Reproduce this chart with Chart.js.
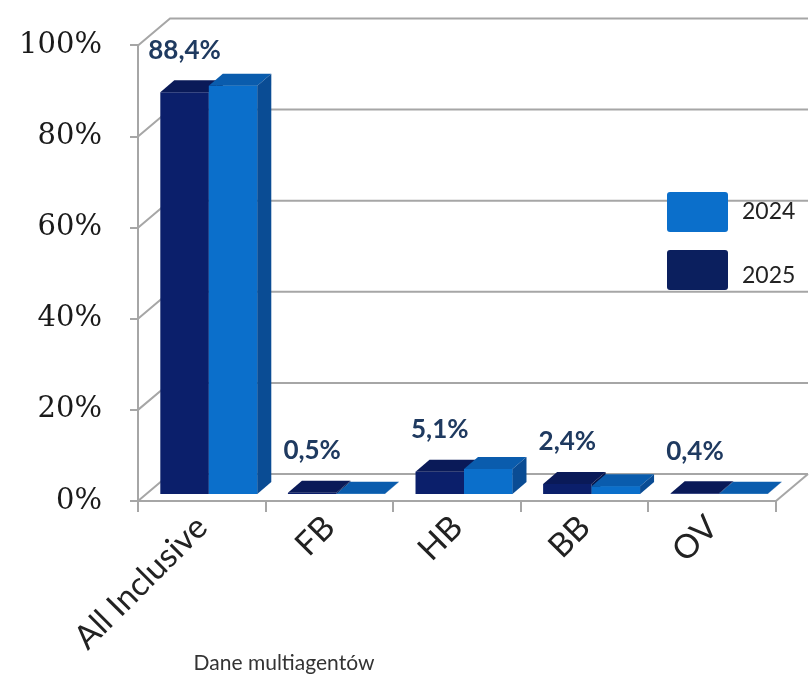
<!DOCTYPE html>
<html>
<head>
<meta charset="utf-8">
<title>Dane multiagentów</title>
<script src="https://cdn.jsdelivr.net/npm/chart.js@4.4.1/dist/chart.umd.min.js"></script>
<style>
    html, body { margin: 0; padding: 0; background: #ffffff; }
    canvas { display: block; }
</style>
</head>
<body>
<canvas id="boardChart" width="809" height="679"></canvas>
<script>
// --- data ---
const categories = ['All Inclusive', 'FB', 'HB', 'BB', 'OV'];
const values2025 = [88.4, 0.5, 5.1, 2.4, 0.4];
const values2024 = [89.8, 0.3, 5.7, 1.9, 0.3];
const labels2025 = ['88,4%', '0,5%', '5,1%', '2,4%', '0,4%'];
const seriesNames = ['2025', '2024'];
const yTicks = [0, 20, 40, 60, 80, 100];
const axisTitle = 'Dane multiagentów';

// colours: front, top, side
const navy = { front: '#0b1f6b', top: '#0a1a58', side: '#08164a', legend: '#0b1f5e' };
const blue = { front: '#0b6fcb', top: '#0a5cad', side: '#0a4c94', legend: '#0b6fcb' };

// fake 3D depth (pixels)
const WALL_DX = 32, WALL_DY = -27;   // back wall offset
const BAR_DX = 14, BAR_DY = -12;     // bar depth
const SHIFT_X = 7, SHIFT_Y = -6;     // bars sit a bit behind the front edge
const gridColor = '#a6a6a6';

function poly(ctx, pts, fill) {
    ctx.beginPath();
    ctx.moveTo(pts[0][0], pts[0][1]);
    for (let i = 1; i < pts.length; i++) ctx.lineTo(pts[i][0], pts[i][1]);
    ctx.closePath();
    ctx.fillStyle = fill;
    ctx.fill();
}

function barBox(chart, dsIndex, i) {
    const p = chart.getDatasetMeta(dsIndex).data[i].getProps(['x', 'y', 'base', 'width'], true);
    return { l: p.x - p.width / 2, r: p.x + p.width / 2, t: p.y, b: p.base, x: p.x };
}

const depthPlugin = {
    id: 'depth3d',
    beforeDatasetsDraw(chart) {
        const ctx = chart.ctx;
        const area = chart.chartArea;
        const y = chart.scales.y;
        ctx.save();
        ctx.strokeStyle = gridColor;
        ctx.lineWidth = 2;
        yTicks.forEach(function(v) {
            const yy = y.getPixelForValue(v);
            ctx.beginPath();
            ctx.moveTo(area.left, yy);
            ctx.lineTo(area.left + WALL_DX, yy + WALL_DY);
            ctx.lineTo(area.right + WALL_DX, yy + WALL_DY);
            ctx.stroke();
        });
        // right edge of the floor
        ctx.beginPath();
        ctx.moveTo(area.right, area.bottom);
        ctx.lineTo(area.right + WALL_DX, area.bottom + WALL_DY);
        ctx.stroke();
        ctx.restore();

        ctx.save();
        ctx.translate(SHIFT_X, SHIFT_Y);
    },
    afterDatasetsDraw(chart) {
        const ctx = chart.ctx;
        categories.forEach(function(c, i) {
            const a = barBox(chart, 0, i);
            const b = barBox(chart, 1, i);
            // 2025 (back-left) faces
            poly(ctx, [[a.r, a.t], [a.r + BAR_DX, a.t + BAR_DY], [a.r + BAR_DX, a.b + BAR_DY], [a.r, a.b]], navy.side);
            poly(ctx, [[a.l, a.t], [a.r, a.t], [a.r + BAR_DX, a.t + BAR_DY], [a.l + BAR_DX, a.t + BAR_DY]], navy.top);
            // 2024 drawn over it
            poly(ctx, [[b.l, b.t], [b.r, b.t], [b.r, b.b], [b.l, b.b]], blue.front);
            poly(ctx, [[b.l, b.t], [b.r, b.t], [b.r + BAR_DX, b.t + BAR_DY], [b.l + BAR_DX, b.t + BAR_DY]], blue.top);
            poly(ctx, [[b.r, b.t], [b.r + BAR_DX, b.t + BAR_DY], [b.r + BAR_DX, b.b + BAR_DY], [b.r, b.b]], blue.side);
        });
        ctx.restore();

        // value labels of the 2025 series
        ctx.save();
        ctx.font = 'bold 26px Lato';
        ctx.fillStyle = '#1f3a60';
        ctx.textAlign = 'center';
        ctx.textBaseline = 'middle';
        labels2025.forEach(function(txt, i) {
            const a = barBox(chart, 0, i);
            ctx.fillText(txt, a.x + SHIFT_X, Math.max(a.t + SHIFT_Y - 42, chart.chartArea.top - 8));
        });
        ctx.restore();
    },
    afterDraw(chart) {
        const ctx = chart.ctx;
        const area = chart.chartArea;
        ctx.save();
        // legend
        const items = [
            { name: seriesNames[1], color: blue.legend, top: 192, textY: 212 },
            { name: seriesNames[0], color: navy.legend, top: 250, textY: 276 }
        ];
        const boxX = area.right - 109;
        items.forEach(function(it) {
            ctx.fillStyle = it.color;
            ctx.beginPath();
            ctx.roundRect(boxX, it.top, 61, 40, 3);
            ctx.fill();
            ctx.fillStyle = '#222222';
            ctx.font = '23px Lato';
            ctx.textAlign = 'left';
            ctx.textBaseline = 'middle';
            ctx.fillText(it.name, boxX + 75, it.textY);
        });
        // axis title
        ctx.font = '21px Lato';
        ctx.fillStyle = '#333333';
        ctx.textAlign = 'center';
        ctx.textBaseline = 'middle';
        ctx.fillText(axisTitle, area.left + 146, 663);
        ctx.restore();
    }
};

new Chart(document.getElementById('boardChart'), {
    type: 'bar',
    data: {
        labels: categories,
        datasets: [
            { label: seriesNames[0], data: values2025, backgroundColor: navy.front, borderWidth: 0, clip: false },
            { label: seriesNames[1], data: values2024, backgroundColor: blue.front, borderWidth: 0, clip: false }
        ]
    },
    options: {
        responsive: false,
        animation: false,
        devicePixelRatio: 1,
        layout: { padding: { top: 45, right: 33, left: 0, bottom: 0 } },
        datasets: {
            bar: { categoryPercentage: 0.76, barPercentage: 1.0 }
        },
        plugins: {
            legend: { display: false },
            tooltip: { enabled: false }
        },
        scales: {
            x: {
                grid: { display: true, drawOnChartArea: false, offset: true, tickLength: 11, color: gridColor, lineWidth: 2 },
                border: { display: true, color: gridColor, width: 2 },
                ticks: {
                    minRotation: 45,
                    maxRotation: 45,
                    padding: -4,
                    color: '#222222',
                    font: { family: 'Lato', size: 33 }
                },
                afterFit: function(scale) { scale.height = 178; }
            },
            y: {
                min: 0,
                max: 100,
                afterBuildTicks: function(scale) {
                    scale.ticks = yTicks.map(function(v) { return { value: v }; });
                },
                grid: { display: true, drawOnChartArea: false, tickLength: 8, color: gridColor, lineWidth: 2 },
                border: { display: true, color: gridColor, width: 2 },
                ticks: {
                    padding: 28,
                    color: '#1a1a1a',
                    font: { family: 'DejaVu Serif', size: 29 },
                    callback: function(value) { return value + '%'; }
                },
                afterFit: function(scale) { scale.width = 138; }
            }
        }
    },
    plugins: [depthPlugin]
});
</script>
</body>
</html>
